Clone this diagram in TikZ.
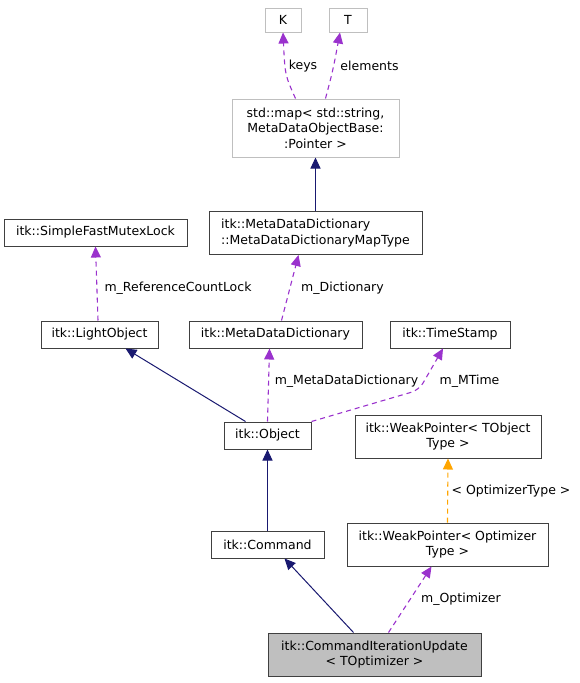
\documentclass[tikz,border=0pt]{standalone}
\usepackage{fontspec}
\setmainfont{DejaVu Sans}
\usetikzlibrary{arrows.meta}
\definecolor{navy}{HTML}{191970}
\definecolor{purp}{HTML}{9A32CD}
\definecolor{orng}{HTML}{FFA500}
\definecolor{boxline}{HTML}{404040}
\definecolor{grayline}{HTML}{BFBFBF}
\definecolor{fillgray}{HTML}{BFBFBF}
\tikzset{
  cls/.style={draw=boxline, line width=1pt, fill=white, inner sep=0pt, align=center,
    font=\fontsize{12.5}{15.5}\selectfont},
  ext/.style={cls, draw=grayline},
  inh/.style={draw=navy, line width=1pt, -{Triangle[length=11pt,width=10pt]}},
  use/.style={draw=purp, line width=1.1pt, dash pattern=on 5pt off 4pt, -{Triangle[length=11pt,width=10pt]}},
  tmpl/.style={draw=orng, line width=1.1pt, dash pattern=on 5pt off 4pt, -{Triangle[length=11pt,width=10pt]}},
  lbl/.style={font=\fontsize{12.5}{15.5}\selectfont, inner sep=0pt}
}
\begin{document}
\begin{tikzpicture}[x=1pt,y=-1pt]
\useasboundingbox (0,0) rectangle (579,683);
% nodes
\node[ext, minimum width=36pt, minimum height=24pt] (K) at (283,20) {K};
\node[ext, minimum width=38pt, minimum height=24pt] (T) at (348,20) {T};
\node[ext, minimum width=167pt, minimum height=58pt] (map) at (315.5,128) {std::map< std::string,\\ MetaDataObjectBase:\\:Pointer >};
\node[cls, minimum width=213pt, minimum height=43pt, align=left] (mapt) at (315.5,233) {itk::MetaDataDictionary\\::MetaDataDictionaryMapType};
\node[cls, minimum width=183pt, minimum height=27pt] (sfml) at (95.5,232.5) {itk::SimpleFastMutexLock};
\node[cls, minimum width=117pt, minimum height=27pt] (lo) at (99.5,334.5) {itk::LightObject};
\node[cls, minimum width=173pt, minimum height=27pt] (mdd) at (275.5,334.5) {itk::MetaDataDictionary};
\node[cls, minimum width=120pt, minimum height=27pt] (ts) at (450,334.5) {itk::TimeStamp};
\node[cls, minimum width=87pt, minimum height=27pt] (obj) at (267.5,435.5) {itk::Object};
\node[cls, minimum width=186pt, minimum height=43pt] (wpt) at (448,436.5) {itk::WeakPointer< TObject\\Type >};
\node[cls, minimum width=113pt, minimum height=27pt] (cmd) at (267.5,544.5) {itk::Command};
\node[cls, minimum width=201pt, minimum height=43pt] (wpo) at (447.5,544.5) {itk::WeakPointer< Optimizer\\Type >};
\node[cls, fill=fillgray, minimum width=213pt, minimum height=43pt] (ciu) at (374.5,654.5) {itk::CommandIterationUpdate\\< TOptimizer >};
% edges
\draw[use] ([xshift=-20pt]map.north) .. controls (285,75) .. (K.south);
\draw[use] ([xshift=10pt]map.north) .. controls (333,70) .. ([xshift=-8pt]T.south);
\draw[inh] (mapt.north) -- (map.south);
\draw[use] ([xshift=6pt]mdd.north) -- ([xshift=-17pt]mapt.south);
\draw[use] ([xshift=-1.5pt]lo.north) -- (sfml.south);
\draw[inh] ([xshift=-22pt]obj.north) -- ([xshift=26pt]lo.south);
\draw[use] (obj.north) -- ([xshift=-6pt]mdd.south);
\coordinate (bend) at (419,390);
\draw[use, rounded corners=8pt] (obj.north east) -- (bend) -- ([xshift=-7pt]ts.south);
\draw[inh] (cmd.north) -- (obj.south);
\draw[tmpl] (wpo.north) -- (wpt.south);
\draw[inh] ([xshift=-21pt]ciu.north) -- ([xshift=17pt]cmd.south);
\draw[use] ([xshift=14pt]ciu.north) -- ([xshift=-16pt]wpo.south);
% labels
\node[lbl] (l1) at (303,66) {keys};
\node[lbl] (l2) at (369.5,66) {elements};
\node[lbl] (l3) at (342.5,288) {m\_Dictionary};
\node[lbl] (l4) at (178,288) {m\_ReferenceCountLock};
\node[lbl] (l5) at (346.5,381) {m\_MetaDataDictionary};
\node[lbl] (l6) at (469.5,381) {m\_MTime};
\node[lbl] (l7) at (511,491) {< OptimizerType >};
\node[lbl] (l8) at (461,599) {m\_Optimizer};
\end{tikzpicture}
\end{document}
